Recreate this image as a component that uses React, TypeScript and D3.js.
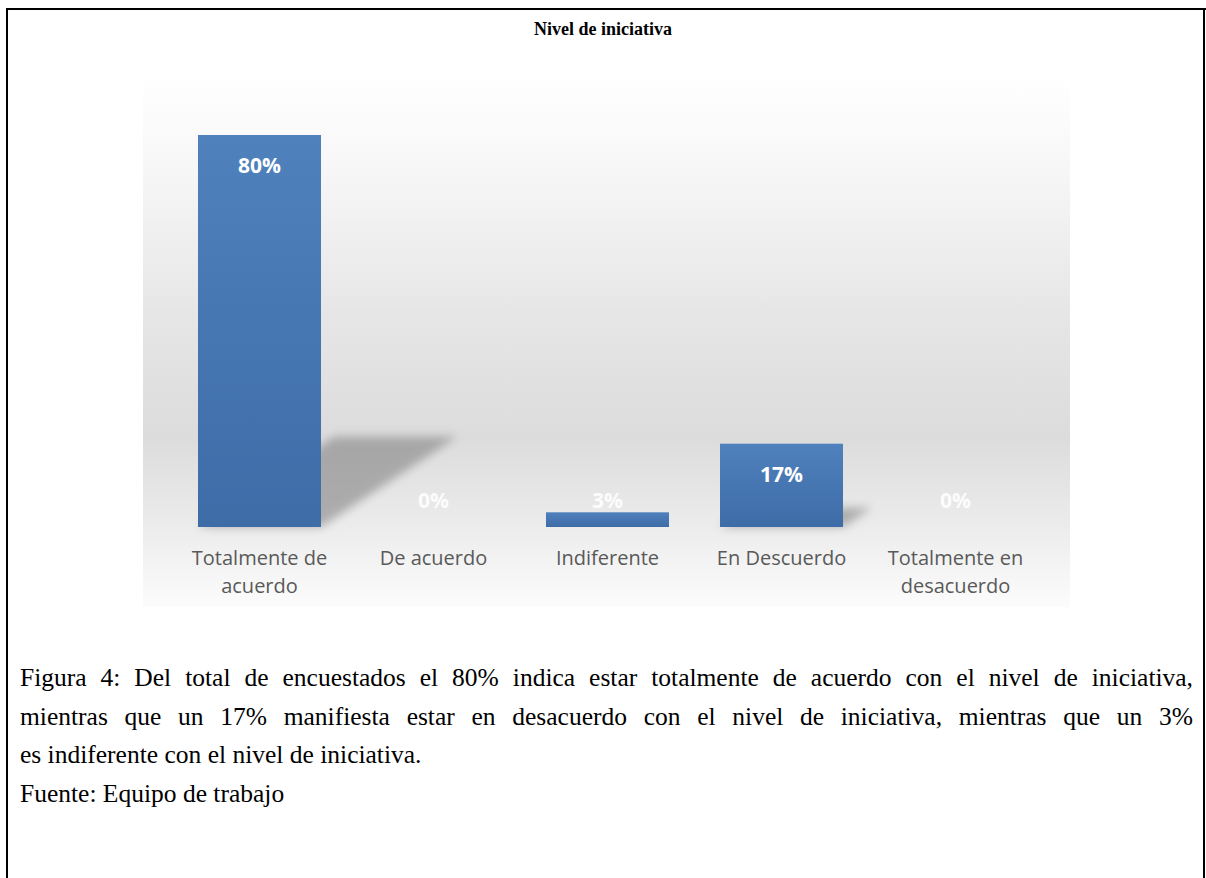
import React, { useLayoutEffect, useRef } from "react";
import * as d3 from "d3";

const categories: string[][] = [
  ["Totalmente de", "acuerdo"],
  ["De acuerdo"],
  ["Indiferente"],
  ["En Descuerdo"],
  ["Totalmente en", "desacuerdo"],
];
const values: number[] = [80, 0, 3, 17, 0];
const valueLabels: string[] = ["80%", "0%", "3%", "17%", "0%"];
const title = "Nivel de iniciativa";
const captionLines: string[] = [
  "Figura 4: Del total de encuestados el 80% indica estar totalmente de acuerdo con el nivel de iniciativa,",
  "mientras que un 17% manifiesta estar en desacuerdo con el nivel de iniciativa, mientras que un 3%",
  "es indiferente con el nivel de iniciativa.",
  "Fuente: Equipo de trabajo",
];
const justified: boolean[] = [true, true, false, false];

const W = 1206;
const H = 878;

export default function App() {
  const capRef = useRef<SVGGElement>(null);
  const keys = categories.map((_, i) => String(i));
  const x = d3
    .scaleBand<string>()
    .domain(keys)
    .range([172.5, 1042.5])
    .paddingInner(0.293)
    .paddingOuter(0.1465);
  const y = d3.scaleLinear().domain([0, 80]).range([527, 135]);
  const base = y(0);

  useLayoutEffect(() => {
    if (!capRef.current) return;
    const texts = capRef.current.querySelectorAll("text");
    texts.forEach((t, i) => {
      if (!justified[i]) return;
      const natural = (t as SVGTextElement).getComputedTextLength();
      const spaces = (captionLines[i].match(/ /g) || []).length;
      const target = 1173;
      if (spaces > 0 && natural < target) {
        t.setAttribute("word-spacing", String((target - natural) / spaces));
      } else if (natural > target) {
        t.setAttribute("textLength", String(target));
        t.setAttribute("lengthAdjust", "spacingAndGlyphs");
      }
    });
  }, []);

  const shadowPath = (i: number) => {
    const h = base - y(values[i]);
    if (h < 20) return null;
    const x0 = x(String(i))!;
    const x1 = x0 + x.bandwidth();
    const sh = h * 0.23;
    const dx = h * 0.347;
    return `M${x0},${base} L${x1},${base} L${x1 + dx},${base - sh} L${x0 + dx},${base - sh} Z`;
  };

  return (
    <svg
      width={W}
      height={H}
      style={{ display: "block", position: "absolute", left: 0, top: 0 }}
    >
      <defs>
        <linearGradient id="bg" x1="0" y1="0" x2="0" y2="1">
          <stop offset="0" stopColor="#ffffff" />
          <stop offset="0.15" stopColor="#f8f8f8" />
          <stop offset="0.45" stopColor="#e6e6e6" />
          <stop offset="0.68" stopColor="#dcdcdc" />
          <stop offset="0.85" stopColor="#ececec" />
          <stop offset="1" stopColor="#fcfcfc" />
        </linearGradient>
        <linearGradient id="bar" x1="0" y1="0" x2="0" y2="1">
          <stop offset="0" stopColor="#4f81bd" />
          <stop offset="1" stopColor="#3e6ca7" />
        </linearGradient>
        <filter id="blur" x="-50%" y="-50%" width="200%" height="200%">
          <feGaussianBlur stdDeviation="5" />
        </filter>
      </defs>
      <rect x={0} y={0} width={W} height={H} fill="#ffffff" />
      {/* frame */}
      <line x1={6} y1={9} x2={1206} y2={9} stroke="#000" strokeWidth={2} />
      <line x1={7} y1={8} x2={7} y2={H} stroke="#000" strokeWidth={2} />
      <line x1={1204} y1={8} x2={1204} y2={H} stroke="#000" strokeWidth={2} />
      <text
        x={603}
        y={35}
        textAnchor="middle"
        fontFamily="'Liberation Serif', 'Times New Roman', serif"
        fontWeight="bold"
        fontSize={18}
        fill="#000"
      >
        {title}
      </text>
      {/* chart background */}
      <rect x={143} y={76} width={927} height={531} fill="url(#bg)" />
      {/* shadows */}
      {values.map((v, i) => {
        const p = shadowPath(i);
        return p ? (
          <path key={"s" + i} d={p} fill="#7a7a7a" opacity={0.55} filter="url(#blur)" />
        ) : null;
      })}
      {/* bars */}
      {values.map((v, i) => (
        <rect
          key={"b" + i}
          x={x(String(i))}
          y={y(v)}
          width={x.bandwidth()}
          height={base - y(v)}
          fill="url(#bar)"
        />
      ))}
      {/* value labels */}
      {values.map((v, i) => (
        <text
          key={"v" + i}
          x={x(String(i))! + x.bandwidth() / 2}
          y={Math.min(y(v) + 38, base - 19)}
          textAnchor="middle"
          fontFamily="'Open Sans', sans-serif"
          fontWeight="bold"
          fontSize={21}
          fill="#ffffff"
          fillOpacity={v >= 10 ? 1 : 0.9}
        >
          {valueLabels[i]}
        </text>
      ))}
      {/* category labels */}
      {categories.map((lines, i) => (
        <text
          key={"c" + i}
          x={x(String(i))! + x.bandwidth() / 2}
          y={565}
          textAnchor="middle"
          fontFamily="'Open Sans', sans-serif"
          fontSize={20}
          fill="#595959"
        >
          {lines.map((l, j) => (
            <tspan key={j} x={x(String(i))! + x.bandwidth() / 2} dy={j === 0 ? 0 : 28}>
              {l}
            </tspan>
          ))}
        </text>
      ))}
      {/* caption */}
      <g ref={capRef}>
        {captionLines.map((l, i) => (
          <text
            key={"t" + i}
            x={20}
            y={686 + i * 38.5}
            fontFamily="'Liberation Serif', 'Times New Roman', serif"
            fontSize={25.5}
            fill="#000"
          >
            {l}
          </text>
        ))}
      </g>
    </svg>
  );
}
